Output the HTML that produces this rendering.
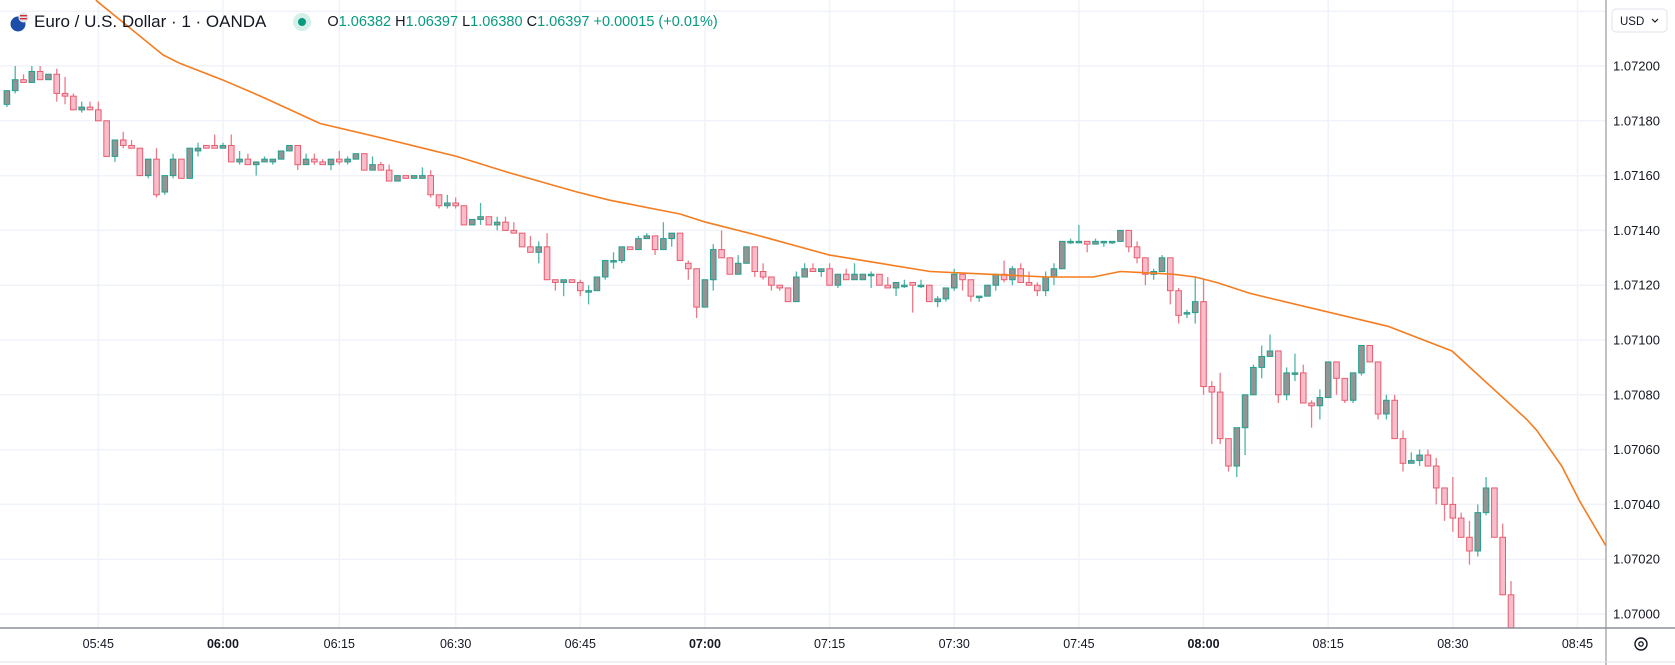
<!DOCTYPE html>
<html><head><meta charset="utf-8"><style>
html,body{margin:0;padding:0;background:#fff;}
#wrap{position:relative;width:1675px;height:665px;overflow:hidden;font-family:"Liberation Sans",sans-serif;}
svg{position:absolute;left:0;top:0;}
#hdr{position:absolute;left:9px;top:10px;height:24px;display:flex;align-items:center;font-size:17px;color:#131722;white-space:nowrap;}
#hdr .ohlc{font-size:14.5px;color:#089981;margin-left:16px;}
#hdr .ohlc b{font-weight:normal;color:#131722;}
</style></head><body>
<div id="wrap">
<svg id="chart" width="1675" height="665"></svg>
<div id="hdr">
 <svg width="20" height="20" style="position:static"><circle cx="9" cy="12" r="7.5" fill="#1e4fa8"/><circle cx="14.5" cy="5.5" r="5" fill="#e0e3eb"/><rect x="11" y="3" width="7" height="1.4" fill="#d32f2f"/><rect x="11" y="6" width="7" height="1.4" fill="#d32f2f"/></svg>
 <span style="margin-left:5px">Euro / U.S. Dollar · 1 · OANDA</span>
 <span style="display:inline-block;width:18px;height:18px;border-radius:9px;background:#d5efe9;margin-left:27px;position:relative"><span style="position:absolute;left:5px;top:5px;width:8px;height:8px;border-radius:4px;background:#089981"></span></span>
 <span class="ohlc"><b>O</b>1.06382 <b>H</b>1.06397 <b>L</b>1.06380 <b>C</b>1.06397 +0.00015 (+0.01%)</span>
</div>
</div>
<script>
const openP=[107186,107191,107195,107194,107198,107195,107197,107190,107189,107184,107185,107184,107180,107167,107173,107171,107170,107160,107166,107154,107160,107166,107159,107169,107171,107171,107170,107171,107165,107166,107164,107165,107165,107166,107169,107171,107164,107166,107165,107164,107166,107165,107166,107168,107162,107164,107162,107158,107160,107159,107159,107160,107153,107149,107150,107149,107142,107144,107145,107142,107143,107140,107139,107134,107132,107134,107122,107121,107122,107121,107118,107118,107123,107129,107129,107134,107133,107137,107138,107133,107137,107139,107128,107126,107112,107122,107133,107130,107124,107128,107134,107125,107123,107120,107119,107114,107123,107126,107125,107126,107120,107124,107122,107122,107124,107124,107120,107119,107120,107121,107120,107120,107114,107115,107119,107124,107122,107116,107116,107120,107124,107122,107126,107121,107120,107118,107123,107126,107136,107136,107136,107135,107136,107136,107136,107140,107134,107130,107124,107125,107130,107118,107110,107110,107114,107083,107081,107064,107054,107068,107080,107090,107094,107096,107080,107088,107088,107077,107076,107079,107092,107086,107078,107088,107098,107092,107073,107078,107064,107055,107056,107058,107054,107046,107040,107035,107028,107023,107037,107046,107028,107007];
const highP=[107191,107200,107197,107200,107200,107197,107199,107196,107190,107187,107187,107187,107180,107173,107176,107173,107170,107166,107170,107160,107168,107166,107170,107172,107171,107175,107172,107175,107169,107168,107165,107167,107166,107169,107171,107171,107168,107168,107166,107166,107169,107167,107168,107168,107167,107165,107164,107160,107160,107160,107163,107162,107153,107153,107152,107149,107144,107150,107145,107145,107145,107143,107139,107138,107136,107139,107122,107122,107122,107122,107120,107123,107129,107132,107134,107134,107138,107139,107138,107143,107139,107139,107129,107126,107122,107135,107140,107130,107131,107134,107134,107128,107123,107120,107119,107125,107128,107128,107126,107128,107124,107126,107128,107124,107125,107124,107123,107121,107122,107121,107122,107120,107116,107119,107126,107124,107122,107116,107120,107124,107129,107127,107128,107125,107121,107125,107128,107136,107137,107142,107136,107137,107136,107136,107140,107140,107136,107130,107126,107131,107130,107119,107111,107123,107122,107085,107088,107064,107068,107080,107091,107098,107102,107096,107090,107095,107091,107078,107082,107092,107092,107086,107088,107098,107098,107092,107080,107080,107067,107059,107060,107060,107057,107046,107050,107037,107034,107040,107050,107046,107033,107012];
const lowP=[107185,107190,107194,107194,107195,107195,107187,107186,107184,107183,107184,107180,107167,107165,107170,107170,107160,107159,107152,107153,107159,107159,107159,107167,107170,107170,107170,107165,107164,107164,107160,107165,107164,107166,107169,107162,107164,107164,107164,107162,107164,107164,107166,107162,107162,107162,107158,107158,107159,107159,107159,107152,107148,107148,107148,107142,107142,107142,107142,107140,107140,107139,107134,107132,107128,107122,107118,107116,107121,107116,107113,107118,107122,107126,107128,107133,107133,107137,107131,107133,107134,107129,107122,107108,107112,107118,107130,107124,107124,107128,107123,107122,107118,107118,107114,107114,107123,107125,107123,107120,107119,107122,107122,107122,107119,107120,107119,107116,107119,107110,107119,107114,107112,107114,107118,107118,107114,107114,107116,107118,107121,107120,107121,107120,107116,107116,107120,107126,107135,107136,107132,107135,107134,107135,107136,107132,107128,107120,107122,107125,107113,107106,107108,107106,107080,107062,107062,107052,107050,107058,107080,107086,107094,107077,107078,107085,107077,107068,107071,107079,107080,107077,107077,107087,107092,107071,107071,107064,107052,107055,107054,107054,107040,107034,107030,107028,107018,107021,107036,107028,107007,106985];
const closeP=[107191,107195,107194,107198,107195,107197,107190,107189,107184,107185,107184,107180,107167,107173,107171,107170,107160,107166,107153,107160,107166,107159,107170,107170,107170,107170,107171,107165,107166,107164,107165,107166,107166,107169,107171,107164,107166,107165,107164,107166,107165,107166,107168,107162,107164,107162,107158,107160,107159,107160,107160,107153,107149,107150,107149,107142,107144,107145,107142,107143,107140,107139,107134,107132,107134,107122,107121,107122,107121,107118,107118,107123,107129,107129,107134,107133,107137,107138,107133,107137,107139,107129,107126,107112,107122,107133,107130,107124,107128,107134,107125,107123,107120,107119,107114,107123,107126,107125,107126,107120,107124,107122,107124,107124,107124,107120,107119,107121,107120,107120,107120,107114,107115,107119,107124,107122,107116,107116,107120,107124,107122,107126,107121,107120,107118,107123,107126,107136,107136,107136,107135,107136,107136,107136,107140,107134,107130,107124,107125,107130,107118,107109,107110,107114,107083,107081,107064,107054,107068,107080,107090,107094,107096,107080,107088,107088,107077,107076,107079,107092,107086,107078,107088,107098,107092,107073,107078,107064,107055,107056,107058,107054,107046,107040,107035,107028,107023,107037,107046,107028,107007,106990];
const maIndex=[10.7,18.8,20.8,25.9,30.5,37.7,46.1,50.1,54.1,60.5,68.6,72.6,81,84.1,90.6,99,111.1,118,125.2,130.7,134,140.3,143,145.6,149.6,166.2,173.9,182.9,184.1,187.1,189.3,192.4];
const maValue=[107224,107204,107201,107195,107189,107179,107173,107170,107167,107161,107154,107151,107146,107143,107138,107131,107125,107124,107123,107123,107125,107124,107123,107121,107117,107105,107096,107071,107067,107054,107041,107025];
const priceTicks=[107220,107200,107180,107160,107140,107120,107100,107080,107060,107040,107020,107000];
const timeTickIndex=[11,26,40,54,69,84,99,114,129,144,159,174,189];
const timeTickLabels=["05:45","06:00","06:15","06:30","06:45","07:00","07:15","07:30","07:45","08:00","08:15","08:30","08:45"];
const timeTickBold=[false,true,false,false,false,true,false,false,false,true,false,false,false];

const NS="http://www.w3.org/2000/svg";
const svg=document.getElementById('chart');
const PLOT_R=1606, PLOT_B=628;
function xOf(i){return 6.9+8.31*i;}
function yOf(p){return 66+(107200-p)*2.74;}
function mk(tag,attrs,parent){const e=document.createElementNS(NS,tag);for(const k in attrs)e.setAttribute(k,attrs[k]);(parent||svg).appendChild(e);return e;}

const defs=mk('defs',{});
const cp=mk('clipPath',{id:'plotclip'},defs);
mk('rect',{x:0,y:0,width:PLOT_R,height:PLOT_B},cp);

const grid=mk('g',{});


priceTicks.forEach(p=>{const l=mk('line',{x1:0,x2:PLOT_R,y1:yOf(p),y2:yOf(p),stroke:'#f0f3fa','stroke-width':1.5},grid);

});
timeTickIndex.forEach(i=>{const l=mk('line',{x1:xOf(i),x2:xOf(i),y1:0,y2:PLOT_B,stroke:'#f0f3fa','stroke-width':1.5},grid);

});

const cg=mk('g',{'clip-path':'url(#plotclip)'});


for(let i=0;i<openP.length;i++){
  const up=closeP[i]>=openP[i];
  const x=xOf(i);
  const g=mk('g',{},cg);
  
  
  mk('line',{x1:x,x2:x,y1:yOf(highP[i]),y2:yOf(lowP[i]),stroke:up?'#4fb6a8':'#ec7b8a','stroke-width':1.3},g);
  const top=yOf(Math.max(openP[i],closeP[i])), bot=yOf(Math.min(openP[i],closeP[i]));
  mk('rect',{x:x-2.8,y:top,width:5.6,height:Math.max(bot-top,1.5),fill:up?'#949494':'#f8bccb',stroke:up?'#22a08e':'#e85d6e','stroke-width':1},g);
}

let d='';
for(let k=0;k<maIndex.length;k++){d+=(k?'L':'M')+xOf(maIndex[k]).toFixed(1)+','+yOf(maValue[k]).toFixed(1);}
const ma=mk('path',{d:d,fill:'none',stroke:'#f57c1f','stroke-width':1.6,'stroke-linejoin':'round','clip-path':'url(#plotclip)'});



const ax=mk('line',{x1:0,x2:1675,y1:PLOT_B,y2:PLOT_B,stroke:'#787b86','stroke-width':1.2});


const ay=mk('line',{x1:PLOT_R,x2:PLOT_R,y1:0,y2:665,stroke:'#9598a1','stroke-width':1.2});


mk('line',{x1:0,x2:1675,y1:662,y2:662,stroke:'#e0e3eb','stroke-width':1});

priceTicks.forEach(p=>{if(p>107210)return;
  const t=mk('text',{x:1613,y:yOf(p)+4.5,'font-size':13,fill:'#131722','font-family':'Liberation Sans, sans-serif'});
  t.textContent=(p/100000).toFixed(5);
  
  });
timeTickIndex.forEach((i,k)=>{
  const t=mk('text',{x:xOf(i),y:648,'text-anchor':'middle','font-size':12.5,fill:'#131722','font-weight':timeTickBold[k]?'bold':'normal','font-family':'Liberation Sans, sans-serif'});
  t.textContent=timeTickLabels[k];
  
  });

const ub=mk('g',{});


mk('rect',{x:1612,y:9,width:55,height:23,rx:4,fill:'#fff',stroke:'#e0e3eb'},ub);
const ut=mk('text',{x:1620,y:25,'font-size':11.5,fill:'#131722','font-family':'Liberation Sans, sans-serif'},ub);ut.textContent='USD';
mk('path',{d:'M1652,19 l3,3 l3,-3',fill:'none',stroke:'#131722','stroke-width':1.2},ub);

const gr=mk('g',{});


mk('circle',{cx:1641,cy:644,r:6,fill:'none',stroke:'#131722','stroke-width':1.4},gr);
mk('circle',{cx:1641,cy:644,r:2.2,fill:'none',stroke:'#131722','stroke-width':1.3},gr);
</script>
</body></html>
